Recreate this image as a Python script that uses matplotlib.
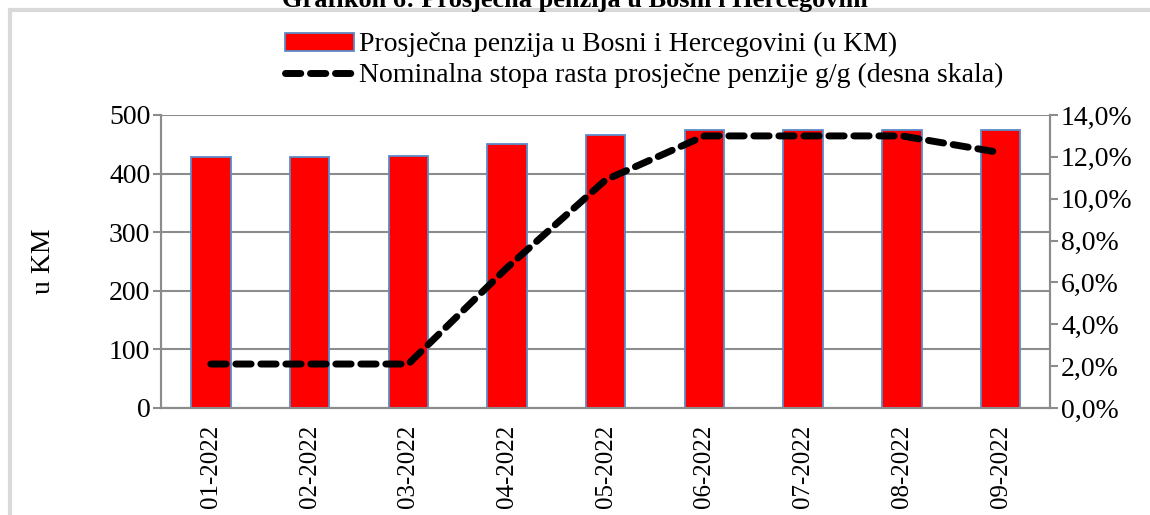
import numpy as np
import matplotlib.pyplot as plt
from matplotlib.patches import Rectangle
from matplotlib.ticker import FuncFormatter

# data
months = ['01-2022', '02-2022', '03-2022', '04-2022', '05-2022',
          '06-2022', '07-2022', '08-2022', '09-2022']
pension = [428, 428, 430, 450, 466, 475, 475, 475, 475]
growth = [2.1, 2.1, 2.1, 6.7, 10.9, 13.0, 13.0, 13.0, 12.2]

plt.rcParams['font.family'] = ['Liberation Serif', 'DejaVu Serif']
fs = 20

fig = plt.figure(figsize=(11.5, 5.15), dpi=100)
ax = fig.add_axes([0.1404, 0.2078, 0.7726, 0.5689])
ax2 = ax.twinx()

x = np.arange(len(months))
ax.bar(x, pension, width=0.4, color='#ff0000', edgecolor='#5b8bc9',
       linewidth=1.3, zorder=3, label='Prosječna penzija u Bosni i Hercegovini (u KM)')
ax2.plot(x, growth, color='black', linewidth=5, linestyle=(0, (2.2, 1.4)),
         dash_capstyle='round', solid_capstyle='round', zorder=4,
         label='Nominalna stopa rasta prosječne penzije g/g (desna skala)')

ax.set_xlim(-0.5, len(months) - 0.5)
ax.set_ylim(0, 500)
ax.set_yticks(np.arange(0, 501, 100))
ax2.set_ylim(0, 14)
ax2.set_yticks(np.arange(0, 14.1, 2))
ax2.yaxis.set_major_formatter(FuncFormatter(lambda v, p: f'{v:.1f}'.replace('.', ',') + '%'))

ax.grid(axis='y', color='#8c8c8c', linewidth=1.5, zorder=0)
ax.set_axisbelow(True)
ax.set_xticks(x)
ax.set_xticklabels(months, rotation=90, fontsize=18)
ax.tick_params(axis='x', length=0, pad=12)
ax.tick_params(axis='y', labelsize=fs, length=6, width=1.5, color='#8c8c8c', pad=2)
ax2.tick_params(axis='y', labelsize=fs, length=6, width=1.5, color='#8c8c8c', pad=2)

for a in (ax, ax2):
    for s in a.spines.values():
        s.set_color('#8c8c8c')
        s.set_linewidth(1.5)
    a.spines['top'].set_visible(False)

ax.set_ylabel('u KM', fontsize=fs, labelpad=38)

h1, l1 = ax.get_legend_handles_labels()
h2, l2 = ax2.get_legend_handles_labels()
fig.legend(h1 + h2, l1 + l2, loc='center', bbox_to_anchor=(0.56, 0.883),
           frameon=False, fontsize=fs, handlelength=2.5, handleheight=0.6,
           handletextpad=0.15, labelspacing=0.2, borderpad=0)

fig.text(0.5, 1 - 7 / 515, 'Grafikon 6: Prosječna penzija u Bosni i Hercegovini',
         ha='center', va='baseline', fontsize=19, fontweight='bold')

fig.patches.append(Rectangle((0.009, -0.05), 1.2, 1.03, transform=fig.transFigure,
                             fill=False, edgecolor='#d9d9d9', linewidth=3))

fig.savefig('out.png', dpi=100)
